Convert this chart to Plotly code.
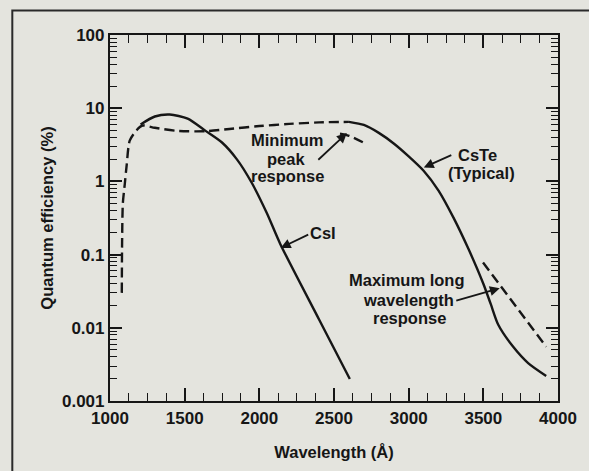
import plotly.graph_objects as go

# ---- data ----
csi_x = [1205, 1300, 1400, 1520, 1640, 1750, 1850, 1950, 2050, 2140, 2400, 2606]
csi_y = [6.0, 7.7, 8.2, 7.2, 4.9, 3.4, 2.0, 0.95, 0.37, 0.14, 0.013, 0.002]

minpeak_x = [1079, 1081, 1086, 1099, 1112, 1132, 1178, 1218, 1300, 1450, 1640, 1800, 2000, 2200, 2400, 2600]
minpeak_y = [0.03, 0.15, 0.5, 0.92, 1.7, 3.6, 5.0, 5.8, 5.4, 4.9, 4.85, 5.2, 5.7, 6.1, 6.4, 6.5]

cste_x = [2600, 2700, 2800, 2900, 3000, 3100, 3200, 3300, 3400, 3500, 3550, 3600, 3700, 3800, 3921]
cste_y = [6.5, 5.9, 4.6, 3.3, 2.2, 1.4, 0.75, 0.32, 0.12, 0.04, 0.021, 0.011, 0.0055, 0.0033, 0.0022]

maxlong_x = [3498, 3700, 3921]
maxlong_y = [0.078, 0.022, 0.0055]

mark_x = [2540, 2600, 2715]
mark_y = [4.5, 4.2, 3.25]

x_ticks = [1000, 1500, 2000, 2500, 3000, 3500, 4000]
y_ticks = [0.001, 0.01, 0.1, 1, 10, 100]
y_tick_text = ["0.001", "0.01", "0.1", "1", "10", "100"]
y_minor = [m * 10 ** e for e in range(-3, 2) for m in range(2, 10)]

INK = "#161616"
BG = "#e4e4de"
FONT = "Liberation Sans"
W, H = 589, 471

# plot-area pixel frame (for placing text labels)
L, R, T, B = 110, 564, 35, 408


def P(px, py):
    return (px - L) / (R - L), (B - py) / (B - T)


fig = go.Figure()
solid = dict(color=INK, width=2.4)
dashed = dict(color=INK, width=2.4, dash="10px,5px")

fig.add_trace(go.Scatter(x=csi_x, y=csi_y, mode="lines", line=dict(**solid, shape="spline", smoothing=0.7)))
fig.add_trace(go.Scatter(x=minpeak_x, y=minpeak_y, mode="lines", line=dict(**dashed, shape="spline", smoothing=0.7)))
fig.add_trace(go.Scatter(x=cste_x, y=cste_y, mode="lines", line=dict(**solid, shape="spline", smoothing=0.7)))
fig.add_trace(go.Scatter(x=maxlong_x, y=maxlong_y, mode="lines", line=dict(**dashed)))
fig.add_trace(go.Scatter(x=mark_x, y=mark_y, mode="lines", line=dict(**dashed, shape="spline")))

tfont = dict(family=FONT, size=16.5, color=INK, weight="bold")
annotations = []


def txt(px, py, s):
    x, y = P(px, py)
    annotations.append(dict(x=x, y=y, xref="paper", yref="paper", text=s, showarrow=False,
                            font=tfont, xanchor="center", yanchor="middle"))


def arrow(hx, hy, tx, ty):
    x, y = P(hx, hy)
    annotations.append(dict(x=x, y=y, xref="paper", yref="paper", text="", showarrow=True,
                            ax=tx - hx, ay=ty - hy, arrowhead=2, arrowsize=1.1, arrowwidth=1.8,
                            arrowcolor=INK, standoff=0))


txt(289, 142, "Minimum")
txt(288, 161, "peak")
txt(290, 179, "response")
arrow(350, 135, 320, 163)

txt(482, 157, "CsTe")
txt(486, 176, "(Typical)")
arrow(428, 170, 457, 157)

txt(326, 237, "CsI")
arrow(283, 252, 312, 238)

txt(411, 285, "Maximum long")
txt(412, 305, "wavelength")
txt(414, 323, "response")
arrow(505, 293, 460, 306)

fig.update_layout(
    width=W, height=H, autosize=False,
    margin=dict(l=L, r=W - R, t=T, b=H - B),
    paper_bgcolor=BG, plot_bgcolor=BG,
    showlegend=False,
    font=dict(family=FONT, size=16.5, color=INK, weight="bold"),
    annotations=annotations,
    shapes=[dict(type="rect", xref="paper", yref="paper",
                 x0=(11 - L) / (R - L), x1=1.2, y0=-0.3, y1=(B - 10) / (B - T),
                 line=dict(color="#2a2a2a", width=2), layer="below")],
)

fig.update_xaxes(
    range=[1000, 4000], tickvals=x_ticks, ticks="inside", ticklen=13, tickwidth=1.6,
    tickcolor=INK, showline=True, linecolor=INK, linewidth=2.2, mirror="allticks",
    showgrid=False, zeroline=False,
    minor=dict(dtick=125, ticks="inside", ticklen=8, tickwidth=1.4, tickcolor=INK, showgrid=False),
    tickfont=dict(family=FONT, size=17, color=INK, weight="bold"),
    title=dict(text="Wavelength (Å)", font=dict(family=FONT, size=16.5, color=INK, weight="bold"), standoff=20),
)
fig.update_yaxes(
    type="log", range=[-3, 2], tickvals=y_ticks, ticktext=y_tick_text,
    ticks="inside", ticklen=12, tickwidth=1.6, tickcolor=INK,
    showline=True, linecolor=INK, linewidth=2.2, mirror="allticks",
    showgrid=False, zeroline=False,
    minor=dict(tickvals=y_minor, ticks="inside", ticklen=7, tickwidth=1.3, tickcolor=INK, showgrid=False),
    tickfont=dict(family=FONT, size=17, color=INK, weight="bold"),
    title=dict(text="Quantum efficiency (%)", font=dict(family=FONT, size=16.5, color=INK, weight="bold"), standoff=4),
)

post = (
    "document.documentElement.style.background='%s';"
    "document.body.style.margin='0px';document.body.style.padding='0px';"
    "document.body.style.overflow='hidden';"
    "var gd=document.getElementById('{plot_id}');"
    "Plotly.relayout(gd,{width:%d,height:%d});" % (BG, W, H)
)

fig.write_html(
    "out.html",
    config={"displayModeBar": False, "responsive": False},
    post_script=post,
)
